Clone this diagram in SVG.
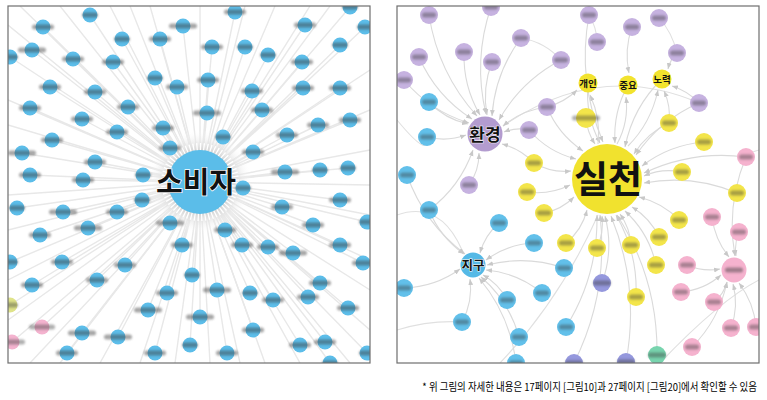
<svg xmlns="http://www.w3.org/2000/svg" width="767" height="400" viewBox="0 0 767 400">
<style>
.le{stroke:#e4e4e4;stroke-width:1.4;fill:none;opacity:.85}
.re{stroke:#e0e0e0;stroke-width:1.1;fill:none}
.ra{stroke:#dadada;stroke-width:1.1;fill:none;marker-end:url(#ar)}
.frame{fill:none;stroke:#6e6e6e;stroke-width:1.2}
.hub{font-family:"Noto Sans CJK KR","Noto Sans",sans-serif;font-weight:700;fill:#111;text-anchor:middle;dominant-baseline:central;paint-order:stroke;stroke:#fff}
.cap{font-family:"Noto Sans CJK KR","Noto Sans",sans-serif;font-size:11px;fill:#000;text-anchor:end}
</style>
<defs>
<filter id="bl" x="-50%" y="-200%" width="200%" height="500%"><feGaussianBlur stdDeviation="1"/></filter>
<marker id="ar" viewBox="0 0 10 10" refX="10" refY="5" markerWidth="6" markerHeight="6" markerUnits="userSpaceOnUse" orient="auto"><path d="M0 1L10 5L0 9z" fill="#c8c8c8"/></marker>
<radialGradient id="halo"><stop offset="0.6" stop-color="#d2d2d2"/><stop offset="1" stop-color="#ffffff" stop-opacity="0"/></radialGradient>
<clipPath id="cl"><rect x="8" y="6" width="362" height="357"/></clipPath>
<clipPath id="cr"><rect x="397" y="6" width="362" height="357"/></clipPath>
<g id="nb"><circle r="7.5" fill="#5cbde9"/><rect x="-8" y="-2.5" width="16" height="5" rx="2.5" fill="#3a3a3a" opacity=".45" filter="url(#bl)"/></g>
<g id="nb2"><circle r="7.5" fill="#5cbde9"/><rect x="-11" y="-2.5" width="22" height="5" rx="2.5" fill="#3a3a3a" opacity=".45" filter="url(#bl)"/></g>
<g id="nb3"><circle r="7.5" fill="#5cbde9"/><rect x="-14" y="-2.5" width="28" height="5" rx="2.5" fill="#3a3a3a" opacity=".45" filter="url(#bl)"/></g>
<g id="nk"><circle r="7.5" fill="#f4b3cf"/><rect x="-13" y="-2.5" width="26" height="5" rx="2.5" fill="#3a3a3a" opacity=".4" filter="url(#bl)"/></g>
<g id="ny"><circle r="7.5" fill="#dfe38a"/><rect x="-8" y="-2.5" width="16" height="5" rx="2.5" fill="#3a3a3a" opacity=".4" filter="url(#bl)"/></g>
<g id="rp"><circle r="9" fill="#c6b2e0"/><rect x="-7" y="-2.5" width="14" height="5" rx="2.5" fill="#3a3a3a" opacity=".4" filter="url(#bl)"/></g>
<g id="rb"><circle r="9" fill="#62c0ea"/><rect x="-7" y="-2.5" width="14" height="5" rx="2.5" fill="#3a3a3a" opacity=".4" filter="url(#bl)"/></g>
<g id="ry"><circle r="9" fill="#f3e54a"/><rect x="-7" y="-2.5" width="14" height="5" rx="2.5" fill="#3a3a3a" opacity=".4" filter="url(#bl)"/></g>
<g id="rk"><circle r="9" fill="#f5b2ce"/><rect x="-7" y="-2.5" width="14" height="5" rx="2.5" fill="#3a3a3a" opacity=".4" filter="url(#bl)"/></g>
<g id="ri"><circle r="9" fill="#9598dd"/><rect x="-9" y="-2.5" width="18" height="5" rx="2.5" fill="#3a3a3a" opacity=".4" filter="url(#bl)"/></g>
<g id="rg"><circle r="9" fill="#78d4ae"/><rect x="-9" y="-2.5" width="18" height="5" rx="2.5" fill="#3a3a3a" opacity=".4" filter="url(#bl)"/></g>
</defs>

<rect width="767" height="400" fill="#fff"/>

<!-- LEFT PANEL -->
<g clip-path="url(#cl)">
<g id="edges-left" class="le">
<path d="M90 15L200 182M43 27L200 182M183 26L200 182M235 12L200 182M305 25L200 182M365 27L200 182M350 7L200 182M122 39L200 182M160 39L200 182M212 47L200 182M245 47L200 182M268 55L200 182M340 45L200 182M32 50L200 182M73 59L200 182M113 62L200 182M302 62L200 182M10 57L200 182M155 78L200 182M177 87L200 182M208 80L200 182M252 91L200 182M303 88L200 182M340 88L200 182M50 87L200 182M95 92L200 182M30 108L200 182M128 107L200 182M207 113L200 182M262 110L200 182M82 119L200 182M117 132L200 182M163 128L200 182M223 137L200 182M287 135L200 182M318 125L200 182M350 120L200 182M52 140L200 182M170 148L200 182M253 152L200 182M22 153L200 182M95 162L200 182M285 172L200 182M320 170L200 182M348 168L200 182M30 175L200 182M83 180L200 182M143 175L200 182M243 188L200 182"/>
<path d="M340 200L200 182M17 208L200 182M63 212L200 182M117 212L200 182M142 200L200 182M170 223L200 182M225 230L200 182M282 207L200 182M40 235L200 182M88 228L200 182M313 225L200 182M182 245L200 182M242 245L200 182M268 247L200 182M293 253L200 182M340 245L200 182M62 262L200 182M125 265L200 182M363 263L200 182M10 262L200 182M192 275L200 182M97 280L200 182M32 285L200 182M320 283L200 182M167 293L200 182M217 290L200 182M250 293L200 182M273 300L200 182M308 297L200 182M348 308L200 182M10 305L200 182M148 310L200 182M200 317L200 182M42 327L200 182M82 333L200 182M118 337L200 182M253 330L200 182M12 342L200 182M190 345L200 182M67 353L200 182M155 353L200 182M227 353L200 182M300 345L200 182M325 342L200 182M367 353L200 182M330 363L200 182M367 222L200 182"/>
<path d="M20 6L200 182M60 6L200 182M130 6L200 182M200 6L200 182M275 6L200 182M330 6L200 182M30 363L200 182M100 363L200 182M175 363L200 182M210 363L200 182M265 363L200 182M350 363L200 182M8 25L200 182M8 125L200 182M8 230L200 182M8 320L200 182M370 70L200 182M370 150L200 182M370 185L200 182M370 290L200 182M370 330L200 182M110 6L200 182M150 6L200 182M245 6L200 182M310 6L200 182M60 363L200 182M140 363L200 182M240 363L200 182M300 363L200 182M8 100L200 182M8 195L200 182M8 280L200 182M370 110L200 182M370 215L200 182M370 260L200 182"/>
</g>
<circle cx="200" cy="182" r="52" fill="url(#halo)"/>
<circle cx="200" cy="182" r="35" fill="none" stroke="#fff" stroke-width="8" stroke-dasharray="1.3 2.2"/>
<g id="nodes-left">
<g id="L1"><use href="#nb" x="90" y="15"/></g>
<g id="L2"><use href="#nb2" x="43" y="27"/></g>
<g id="L3"><use href="#nb3" x="183" y="26"/></g>
<g id="L4"><use href="#nb2" x="235" y="12"/></g>
<g id="L5"><use href="#nb2" x="305" y="25"/></g>
<g id="L6"><use href="#nb" x="365" y="27"/></g>
<g id="L7"><use href="#nb" x="350" y="7"/></g>
<g id="L8"><use href="#nb" x="122" y="39"/></g>
<g id="L9"><use href="#nb2" x="160" y="39"/></g>
<g id="L10"><use href="#nb2" x="212" y="47"/></g>
<g id="L11"><use href="#nb" x="245" y="47"/></g>
<g id="L12"><use href="#nb" x="268" y="55"/></g>
<g id="L13"><use href="#nb" x="340" y="45"/></g>
<g id="L14"><use href="#nb3" x="32" y="50"/></g>
<g id="L15"><use href="#nb2" x="73" y="59"/></g>
<g id="L16"><use href="#nb2" x="113" y="62"/></g>
<g id="L17"><use href="#nb2" x="302" y="62"/></g>
<g id="L18"><use href="#nb" x="10" y="57"/></g>
<g id="L19"><use href="#nb" x="155" y="78"/></g>
<g id="L20"><use href="#nb2" x="177" y="87"/></g>
<g id="L21"><use href="#nb2" x="208" y="80"/></g>
<g id="L22"><use href="#nb2" x="252" y="91"/></g>
<g id="L23"><use href="#nb2" x="303" y="88"/></g>
<g id="L24"><use href="#nb2" x="340" y="88"/></g>
<g id="L25"><use href="#nb2" x="50" y="87"/></g>
<g id="L26"><use href="#nb2" x="95" y="92"/></g>
<g id="L27"><use href="#nb2" x="30" y="108"/></g>
<g id="L28"><use href="#nb2" x="128" y="107"/></g>
<g id="L29"><use href="#nb3" x="207" y="113"/></g>
<g id="L30"><use href="#nb2" x="262" y="110"/></g>
<g id="L31"><use href="#nb2" x="82" y="119"/></g>
<g id="L32"><use href="#nb2" x="117" y="132"/></g>
<g id="L33"><use href="#nb2" x="163" y="128"/></g>
<g id="L34"><use href="#nb" x="223" y="137"/></g>
<g id="L35"><use href="#nb2" x="287" y="135"/></g>
<g id="L36"><use href="#nb2" x="318" y="125"/></g>
<g id="L37"><use href="#nb2" x="350" y="120"/></g>
<g id="L38"><use href="#nb2" x="52" y="140"/></g>
<g id="L39"><use href="#nb2" x="170" y="148"/></g>
<g id="L40"><use href="#nb2" x="253" y="152"/></g>
<g id="L41"><use href="#nb3" x="22" y="153"/></g>
<g id="L42"><use href="#nb2" x="95" y="162"/></g>
<g id="L43"><use href="#nb3" x="285" y="172"/></g>
<g id="L44"><use href="#nb" x="320" y="170"/></g>
<g id="L45"><use href="#nb" x="348" y="168"/></g>
<g id="L46"><use href="#nb2" x="30" y="175"/></g>
<g id="L47"><use href="#nb2" x="83" y="180"/></g>
<g id="L48"><use href="#nb" x="143" y="175"/></g>
<g id="L49"><use href="#nb" x="243" y="188"/></g>
<g id="L50"><use href="#nb2" x="340" y="200"/></g>
<g id="L51"><use href="#nb" x="17" y="208"/></g>
<g id="L52"><use href="#nb3" x="63" y="212"/></g>
<g id="L53"><use href="#nb2" x="117" y="212"/></g>
<g id="L54"><use href="#nb" x="142" y="200"/></g>
<g id="L55"><use href="#nb3" x="170" y="223"/></g>
<g id="L56"><use href="#nb2" x="225" y="230"/></g>
<g id="L57"><use href="#nb2" x="282" y="207"/></g>
<g id="L58"><use href="#nb2" x="40" y="235"/></g>
<g id="L59"><use href="#nb3" x="88" y="228"/></g>
<g id="L60"><use href="#nb2" x="313" y="225"/></g>
<g id="L61"><use href="#nb2" x="182" y="245"/></g>
<g id="L62"><use href="#nb2" x="242" y="245"/></g>
<g id="L63"><use href="#nb2" x="268" y="247"/></g>
<g id="L64"><use href="#nb3" x="293" y="253"/></g>
<g id="L65"><use href="#nb2" x="340" y="245"/></g>
<g id="L66"><use href="#nb2" x="62" y="262"/></g>
<g id="L67"><use href="#nb2" x="125" y="265"/></g>
<g id="L68"><use href="#nb2" x="363" y="263"/></g>
<g id="L69"><use href="#nb" x="10" y="262"/></g>
<g id="L70"><use href="#nb" x="192" y="275"/></g>
<g id="L71"><use href="#nb2" x="97" y="280"/></g>
<g id="L72"><use href="#nb2" x="32" y="285"/></g>
<g id="L73"><use href="#nb2" x="320" y="283"/></g>
<g id="L74"><use href="#nb2" x="167" y="293"/></g>
<g id="L75"><use href="#nb3" x="217" y="290"/></g>
<g id="L76"><use href="#nb" x="250" y="293"/></g>
<g id="L77"><use href="#nb2" x="273" y="300"/></g>
<g id="L78"><use href="#nb2" x="308" y="297"/></g>
<g id="L79"><use href="#nb2" x="348" y="308"/></g>
<g id="L80"><use href="#ny" x="10" y="305"/></g>
<g id="L81"><use href="#nb3" x="148" y="310"/></g>
<g id="L82"><use href="#nb3" x="200" y="317"/></g>
<g id="L83"><use href="#nk" x="42" y="327"/></g>
<g id="L84"><use href="#nb3" x="82" y="333"/></g>
<g id="L85"><use href="#nb3" x="118" y="337"/></g>
<g id="L86"><use href="#nb2" x="253" y="330"/></g>
<g id="L87"><use href="#nk" x="12" y="342"/></g>
<g id="L88"><use href="#nb" x="190" y="345"/></g>
<g id="L89"><use href="#nb2" x="67" y="353"/></g>
<g id="L90"><use href="#nb2" x="155" y="353"/></g>
<g id="L91"><use href="#nb2" x="227" y="353"/></g>
<g id="L92"><use href="#nb2" x="300" y="345"/></g>
<g id="L93"><use href="#nb2" x="325" y="342"/></g>
<g id="L94"><use href="#nb" x="367" y="353"/></g>
<g id="L95"><use href="#nb" x="330" y="363"/></g>
<g id="L96"><use href="#nb" x="367" y="222"/></g>
</g>
<g id="hub-sobija">
<circle cx="200" cy="182" r="32" fill="#5bbde9"/>
<text class="hub" x="196" y="180" font-size="29" stroke-width="1.5">소비자</text>
</g>
</g>
<rect class="frame" x="8" y="6" width="362" height="357"/>

<!-- RIGHT PANEL -->
<g clip-path="url(#cr)">
<g id="edges-right">
<g class="re">
<path d="M503 126Q600 60 699 103"/>
<path d="M397 215Q440 200 462 250"/>
<path d="M500 363Q560 300 598 215"/>
<path d="M660 363Q720 300 759 280"/>
<path d="M659 18Q672 32 677 53"/>
<path d="M589 15Q597 28 597 42"/>
<path d="M521 38Q545 42 561 60"/>
<path d="M397 120Q430 160 427 137"/>
<path d="M397 330Q430 320 462 322"/>
<path d="M759 150Q750 152 746 157"/>
</g>
<g class="ra">
<path d="M588 83Q585 115 600 143"/>
<path d="M628 85Q613 112 615 143"/>
<path d="M662 79Q633 107 625 147"/>
<path d="M586 118Q587 132 595 144"/>
<path d="M669 123Q647 133 634 154"/>
<path d="M704 142Q669 145 642 166"/>
<path d="M534 163Q551 173 571 171"/>
<path d="M682 172Q662 168 644 176"/>
<path d="M527 192Q550 195 570 185"/>
<path d="M737 193Q692 174 644 183"/>
<path d="M544 213Q561 210 574 197"/>
<path d="M566 243Q582 230 587 210"/>
<path d="M597 248Q604 233 602 216"/>
<path d="M631 245Q630 228 620 214"/>
<path d="M659 237Q650 218 632 207"/>
<path d="M679 220Q663 203 639 197"/>
<path d="M656 265Q649 233 625 211"/>
<path d="M636 297Q638 253 616 215"/>
<path d="M529 130Q548 152 576 159"/>
<path d="M547 107Q558 134 583 151"/>
<path d="M746 157Q693 150 644 173"/>
<path d="M699 103Q660 120 636 155"/>
<path d="M602 283Q614 250 605 216"/>
<path d="M566 327Q598 276 597 215"/>
<path d="M657 355Q658 279 617 215"/>
<path d="M626 362Q640 287 611 216"/>
<path d="M574 363Q609 293 600 215"/>
<path d="M589 15Q577 81 603 142"/>
<path d="M429 15Q438 73 477 116"/>
<path d="M464 52Q463 86 480 115"/>
<path d="M492 62Q482 88 487 115"/>
<path d="M419 57Q436 96 472 119"/>
<path d="M404 80Q430 111 469 123"/>
<path d="M521 38Q495 73 492 116"/>
<path d="M561 60Q521 81 499 120"/>
<path d="M547 107Q522 110 503 126"/>
<path d="M529 130Q516 127 504 132"/>
<path d="M429 102Q445 119 468 124"/>
<path d="M427 137Q447 142 466 135"/>
<path d="M469 185Q479 171 479 153"/>
<path d="M534 163Q521 149 502 144"/>
<path d="M491 7Q473 60 486 114"/>
<path d="M429 210Q460 187 473 150"/>
<path d="M429 210Q440 237 464 254"/>
<path d="M499 223Q485 235 480 253"/>
<path d="M534 243Q508 244 486 260"/>
<path d="M564 268Q526 255 487 265"/>
<path d="M404 288Q435 287 460 269"/>
<path d="M507 300Q499 284 483 275"/>
<path d="M462 322Q473 302 470 279"/>
<path d="M407 175Q424 223 465 254"/>
<path d="M542 293Q518 273 486 270"/>
<path d="M519 337Q509 301 481 277"/>
<path d="M516 363Q510 315 479 278"/>
<path d="M712 217Q715 240 729 257"/>
<path d="M739 232Q734 244 736 256"/>
<path d="M687 265Q703 272 720 269"/>
<path d="M681 292Q704 290 721 275"/>
<path d="M714 302Q724 294 727 282"/>
<path d="M731 328Q739 306 733 284"/>
<path d="M756 327Q754 303 739 283"/>
<path d="M692 347Q719 320 727 282"/>
<path d="M746 157Q726 205 735 256"/>
<path d="M677 53Q670 60 668 69"/>
<path d="M699 103Q688 91 672 86"/>
<path d="M669 123Q671 106 664 91"/>
<path d="M628 146Q651 123 658 90"/>
<path d="M632 27Q624 50 629 73"/>
<path d="M617 144Q629 122 626 97"/>
<path d="M547 107Q565 102 577 90"/>
<path d="M598 144Q601 118 590 95"/>
</g>
</g>
<g id="nodes-right">
<g id="R1"><use href="#rp" x="429" y="15"/></g>
<g id="R2"><use href="#rp" x="491" y="7"/></g>
<g id="R3"><use href="#rp" x="589" y="15"/></g>
<g id="R4"><use href="#rp" x="632" y="27"/></g>
<g id="R5"><use href="#rp" x="659" y="18"/></g>
<g id="R6"><use href="#rp" x="521" y="38"/></g>
<g id="R7"><use href="#rp" x="597" y="42"/></g>
<g id="R8"><use href="#rp" x="464" y="52"/></g>
<g id="R9"><use href="#rp" x="492" y="62"/></g>
<g id="R10"><use href="#rp" x="419" y="57"/></g>
<g id="R11"><use href="#rp" x="561" y="60"/></g>
<g id="R12"><use href="#rp" x="677" y="53"/></g>
<g id="R13"><use href="#rp" x="404" y="80"/></g>
<g id="R14"><use href="#rp" x="547" y="107"/></g>
<g id="R15"><use href="#rp" x="699" y="103"/></g>
<g id="R16"><use href="#rp" x="529" y="130"/></g>
<g id="R17"><use href="#rp" x="469" y="185"/></g>
<g id="R18"><use href="#rb" x="429" y="102"/></g>
<g id="R19"><use href="#rb" x="427" y="137"/></g>
<g id="R20"><use href="#rb" x="407" y="175"/></g>
<g id="R21"><use href="#rb" x="429" y="210"/></g>
<g id="R22"><use href="#rb" x="499" y="223"/></g>
<g id="R23"><use href="#rb" x="534" y="243"/></g>
<g id="R24"><use href="#rb" x="564" y="268"/></g>
<g id="R25"><use href="#rb" x="404" y="288"/></g>
<g id="R26"><use href="#rb" x="542" y="293"/></g>
<g id="R27"><use href="#rb" x="507" y="300"/></g>
<g id="R28"><use href="#rb" x="462" y="322"/></g>
<g id="R29"><use href="#rb" x="566" y="327"/></g>
<g id="R30"><use href="#rb" x="519" y="337"/></g>
<g id="R31"><use href="#rb" x="516" y="363"/></g>
<g id="R32"><circle cx="586" cy="118" r="10" fill="#f3e54a"/><rect x="572" y="115.5" width="28" height="5" rx="2.5" fill="#3a3a3a" opacity=".4" filter="url(#bl)"/></g>
<g id="R33"><use href="#ry" x="669" y="123"/></g>
<g id="R34"><use href="#ry" x="704" y="142"/></g>
<g id="R35"><use href="#ry" x="534" y="163"/></g>
<g id="R36"><use href="#ry" x="682" y="172"/></g>
<g id="R37"><use href="#ry" x="527" y="192"/></g>
<g id="R38"><use href="#ry" x="737" y="193"/></g>
<g id="R39"><use href="#ry" x="544" y="213"/></g>
<g id="R40"><use href="#ry" x="566" y="243"/></g>
<g id="R41"><use href="#ry" x="597" y="248"/></g>
<g id="R42"><use href="#ry" x="631" y="245"/></g>
<g id="R43"><use href="#ry" x="659" y="237"/></g>
<g id="R44"><use href="#ry" x="679" y="220"/></g>
<g id="R45"><use href="#ry" x="656" y="265"/></g>
<g id="R46"><use href="#ry" x="636" y="297"/></g>
<g id="R47"><use href="#rk" x="746" y="157"/></g>
<g id="R48"><use href="#rk" x="712" y="217"/></g>
<g id="R49"><use href="#rk" x="739" y="232"/></g>
<g id="R50"><use href="#rk" x="687" y="265"/></g>
<g id="R51"><use href="#rk" x="681" y="292"/></g>
<g id="R52"><use href="#rk" x="714" y="302"/></g>
<g id="R53"><use href="#rk" x="731" y="328"/></g>
<g id="R54"><use href="#rk" x="756" y="327"/></g>
<g id="R55"><use href="#rk" x="692" y="347"/></g>
<g id="R56"><use href="#ri" x="602" y="283"/></g>
<g id="R57"><use href="#ri" x="574" y="363"/></g>
<g id="R58"><use href="#ri" x="626" y="362"/></g>
<g id="R59"><use href="#rg" x="657" y="355"/></g>
<g id="R60"><circle cx="734" cy="270" r="12.5" fill="#f5b2ce"/><rect x="725" y="267.5" width="18" height="5" rx="2.5" fill="#3a3a3a" opacity=".45" filter="url(#bl)"/></g>
</g>
<g id="hub-gaein"><circle cx="588" cy="83" r="9.5" fill="#f2e32e"/><text class="hub" x="588" y="82.5" font-size="9.5" stroke-width="0">개인</text></g>
<g id="hub-jungyo"><circle cx="628" cy="85" r="9.5" fill="#f2e32e"/><text class="hub" x="628" y="84.5" font-size="9.5" stroke-width="0">중요</text></g>
<g id="hub-noryeok"><circle cx="662" cy="79" r="9.5" fill="#f2e32e"/><text class="hub" x="662" y="78.5" font-size="9.5" stroke-width="0">노력</text></g>
<g id="hub-hwangyeong"><circle cx="485" cy="134" r="17.5" fill="#b39ccf"/><text class="hub" x="485" y="133" font-size="17" stroke-width="1">환경</text></g>
<g id="hub-jigu"><circle cx="473" cy="265" r="12.5" fill="#55b9e6"/><text class="hub" x="473" y="264.5" font-size="12.5" stroke-width="1">지구</text></g>
<g id="hub-silcheon"><circle cx="607" cy="179" r="35" fill="#f1e22e"/><text class="hub" x="608" y="177" font-size="37" stroke-width="0">실천</text></g>
</g>
<rect class="frame" x="397" y="6" width="362" height="357"/>

<text class="cap" transform="translate(757 391) scale(0.86 1)" x="0" y="0">* 위 그림의 자세한 내용은 17페이지 [그림10]과 27페이지 [그림20]에서 확인할 수 있음</text>
</svg>
